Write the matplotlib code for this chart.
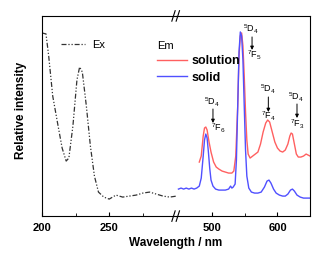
import numpy as np
import matplotlib
matplotlib.use('Agg')
import matplotlib.pyplot as plt
from matplotlib.lines import Line2D

plt.rcParams['font.family'] = ['Liberation Sans', 'DejaVu Sans']
plt.rcParams['mathtext.default'] = 'regular'

# excitation spectrum (left part of the broken axis)
ex_nm = [200, 203, 205, 208, 212, 215, 218, 220, 223, 226, 228, 230, 233, 236, 239,
         242, 246, 250, 255, 260, 265, 270, 275, 280, 285, 290, 295, 300]
ex_int = [0.915, 0.91, 0.80, 0.60, 0.45, 0.34, 0.275, 0.29, 0.45, 0.68, 0.745, 0.72, 0.55,
          0.35, 0.20, 0.12, 0.095, 0.085, 0.105, 0.095, 0.10, 0.105, 0.115, 0.12, 0.11,
          0.10, 0.095, 0.10]

# emission spectra (right part)
sol_nm = [480, 483, 486, 488, 490, 492, 495, 498, 502, 506, 510, 515, 520, 525, 530, 533,
          536, 539, 541, 543, 545, 547, 549, 551, 553, 555, 558, 562, 566, 570, 574, 578,
          582, 585, 588, 592, 596, 600, 604, 608, 612, 616, 619, 621, 623, 626, 629, 632,
          636, 640, 644, 647, 650]
sol_int = [0.27, 0.30, 0.40, 0.44, 0.445, 0.43, 0.37, 0.32, 0.27, 0.245, 0.235, 0.225, 0.22,
           0.215, 0.215, 0.225, 0.30, 0.55, 0.80, 0.90, 0.915, 0.85, 0.70, 0.52, 0.38, 0.31,
           0.29, 0.30, 0.31, 0.32, 0.36, 0.42, 0.465, 0.48, 0.47, 0.42, 0.37, 0.34, 0.325,
           0.32, 0.33, 0.36, 0.40, 0.415, 0.41, 0.36, 0.31, 0.295, 0.295, 0.30, 0.31, 0.305,
           0.30]

sld_nm = [448, 452, 456, 460, 464, 468, 472, 476, 480, 483, 486, 488, 490, 492, 494, 496,
          498, 501, 505, 510, 515, 520, 525, 528, 530, 532, 535, 537, 539, 541, 543, 545,
          547, 549, 551, 553, 556, 560, 565, 570, 575, 580, 584, 587, 590, 594, 598, 603,
          608, 612, 616, 620, 623, 626, 630, 635, 640, 645, 650]
sld_int = [0.135, 0.14, 0.135, 0.14, 0.135, 0.14, 0.135, 0.14, 0.15, 0.19, 0.30, 0.38, 0.41,
           0.39, 0.32, 0.24, 0.18, 0.15, 0.135, 0.13, 0.13, 0.13, 0.135, 0.15, 0.14, 0.145,
           0.16, 0.28, 0.55, 0.82, 0.92, 0.90, 0.78, 0.55, 0.33, 0.20, 0.14, 0.12, 0.115,
           0.115, 0.12, 0.145, 0.175, 0.18, 0.165, 0.135, 0.115, 0.105, 0.10, 0.10, 0.11,
           0.13, 0.135, 0.125, 0.105, 0.095, 0.09, 0.09, 0.09]

# transition labels: upper text (x, y), arrow (x, y0, y1), lower text (x, y)
trans_labels = ['$^7$F$_6$', '$^7$F$_5$', '$^7$F$_4$', '$^7$F$_3$']
trans_top = [(500, 0.57), (560, 0.935), (585, 0.635), (629, 0.595)]
trans_arrow = [(501, 0.535, 0.465), (561, 0.895, 0.83), (586, 0.595, 0.52), (630, 0.56, 0.49)]
trans_bot = [(509, 0.44), (564, 0.805), (586, 0.50), (631, 0.46)]

fig = plt.figure(figsize=(3.33, 2.61), dpi=100)
axl = fig.add_axes([0.126, 0.172, 0.404, 0.767])
axr = fig.add_axes([0.530, 0.172, 0.401, 0.767])

ex_line, = axl.plot(ex_nm, ex_int, color='#333333', lw=0.9,
                    linestyle=(0, (4, 1.5, 1, 1.5, 1, 1.5)))
sol_line, = axr.plot(sol_nm, sol_int, color='#ff6060', lw=1.0)
sld_line, = axr.plot(sld_nm, sld_int, color='#5050ff', lw=1.0)

axl.set_xlim(200, 300)
axr.set_xlim(445, 650)
axl.set_xticks([200, 250])
axl.set_xticks([225, 275], minor=True)
axr.set_xticks([500, 600])
axr.set_xticks([550], minor=True)
for ax in (axl, axr):
    ax.set_ylim(0, 1)
    ax.set_yticks([])
    ax.tick_params(axis='x', direction='in', length=3, width=0.8, labelsize=8, pad=5)
    ax.tick_params(axis='x', which='minor', direction='in', length=2, width=0.6)
    for lab in ax.get_xticklabels():
        lab.set_fontweight('bold')
axl.spines['right'].set_visible(False)
axr.spines['left'].set_visible(False)

axl.set_ylabel('Relative intensity', fontsize=8.5, fontweight='bold')
axl.yaxis.set_label_coords(-0.11, 0.53)
fig.text(0.528, 0.057, 'Wavelength / nm', fontsize=8.5, fontweight='bold', ha='center')

# break marks on top and bottom spines
bx = 0.530
for by in (0.172, 0.939):
    fig.add_artist(Line2D([bx - 0.014, bx - 0.004], [by - 0.02, by + 0.02], color='k', lw=0.8))
    fig.add_artist(Line2D([bx - 0.001, bx + 0.009], [by - 0.02, by + 0.02], color='k', lw=0.8))

# transition annotations
for lab, top, arr, bot in zip(trans_labels, trans_top, trans_arrow, trans_bot):
    axr.text(top[0], top[1], '$^5$D$_4$', fontsize=6.5, ha='center', va='center')
    axr.annotate('', xy=(arr[0], arr[2]), xytext=(arr[0], arr[1]),
                 arrowprops=dict(arrowstyle='-|>', color='k', lw=0.7,
                                 mutation_scale=5, shrinkA=0, shrinkB=0))
    axr.text(bot[0], bot[1], lab, fontsize=6.5, ha='center', va='center')

# legends
axl.legend([ex_line], ['Ex'], loc='center left', bbox_to_anchor=(61 / 333, 1 - 45 / 261),
           bbox_transform=fig.transFigure, frameon=False, fontsize=8,
           handlelength=2.2, handletextpad=0.6, borderpad=0, borderaxespad=0)
fig.legend([sol_line, sld_line], ['solution', 'solid'], loc='upper left',
           bbox_to_anchor=(157 / 333, 1 - 41 / 261), frameon=False,
           prop={'size': 9, 'weight': 'bold'}, title='Em', title_fontsize=8,
           alignment='left', handlelength=2.4, handletextpad=0.4,
           labelspacing=0.35, borderpad=0, borderaxespad=0)

fig.savefig('out.png', dpi=100)
